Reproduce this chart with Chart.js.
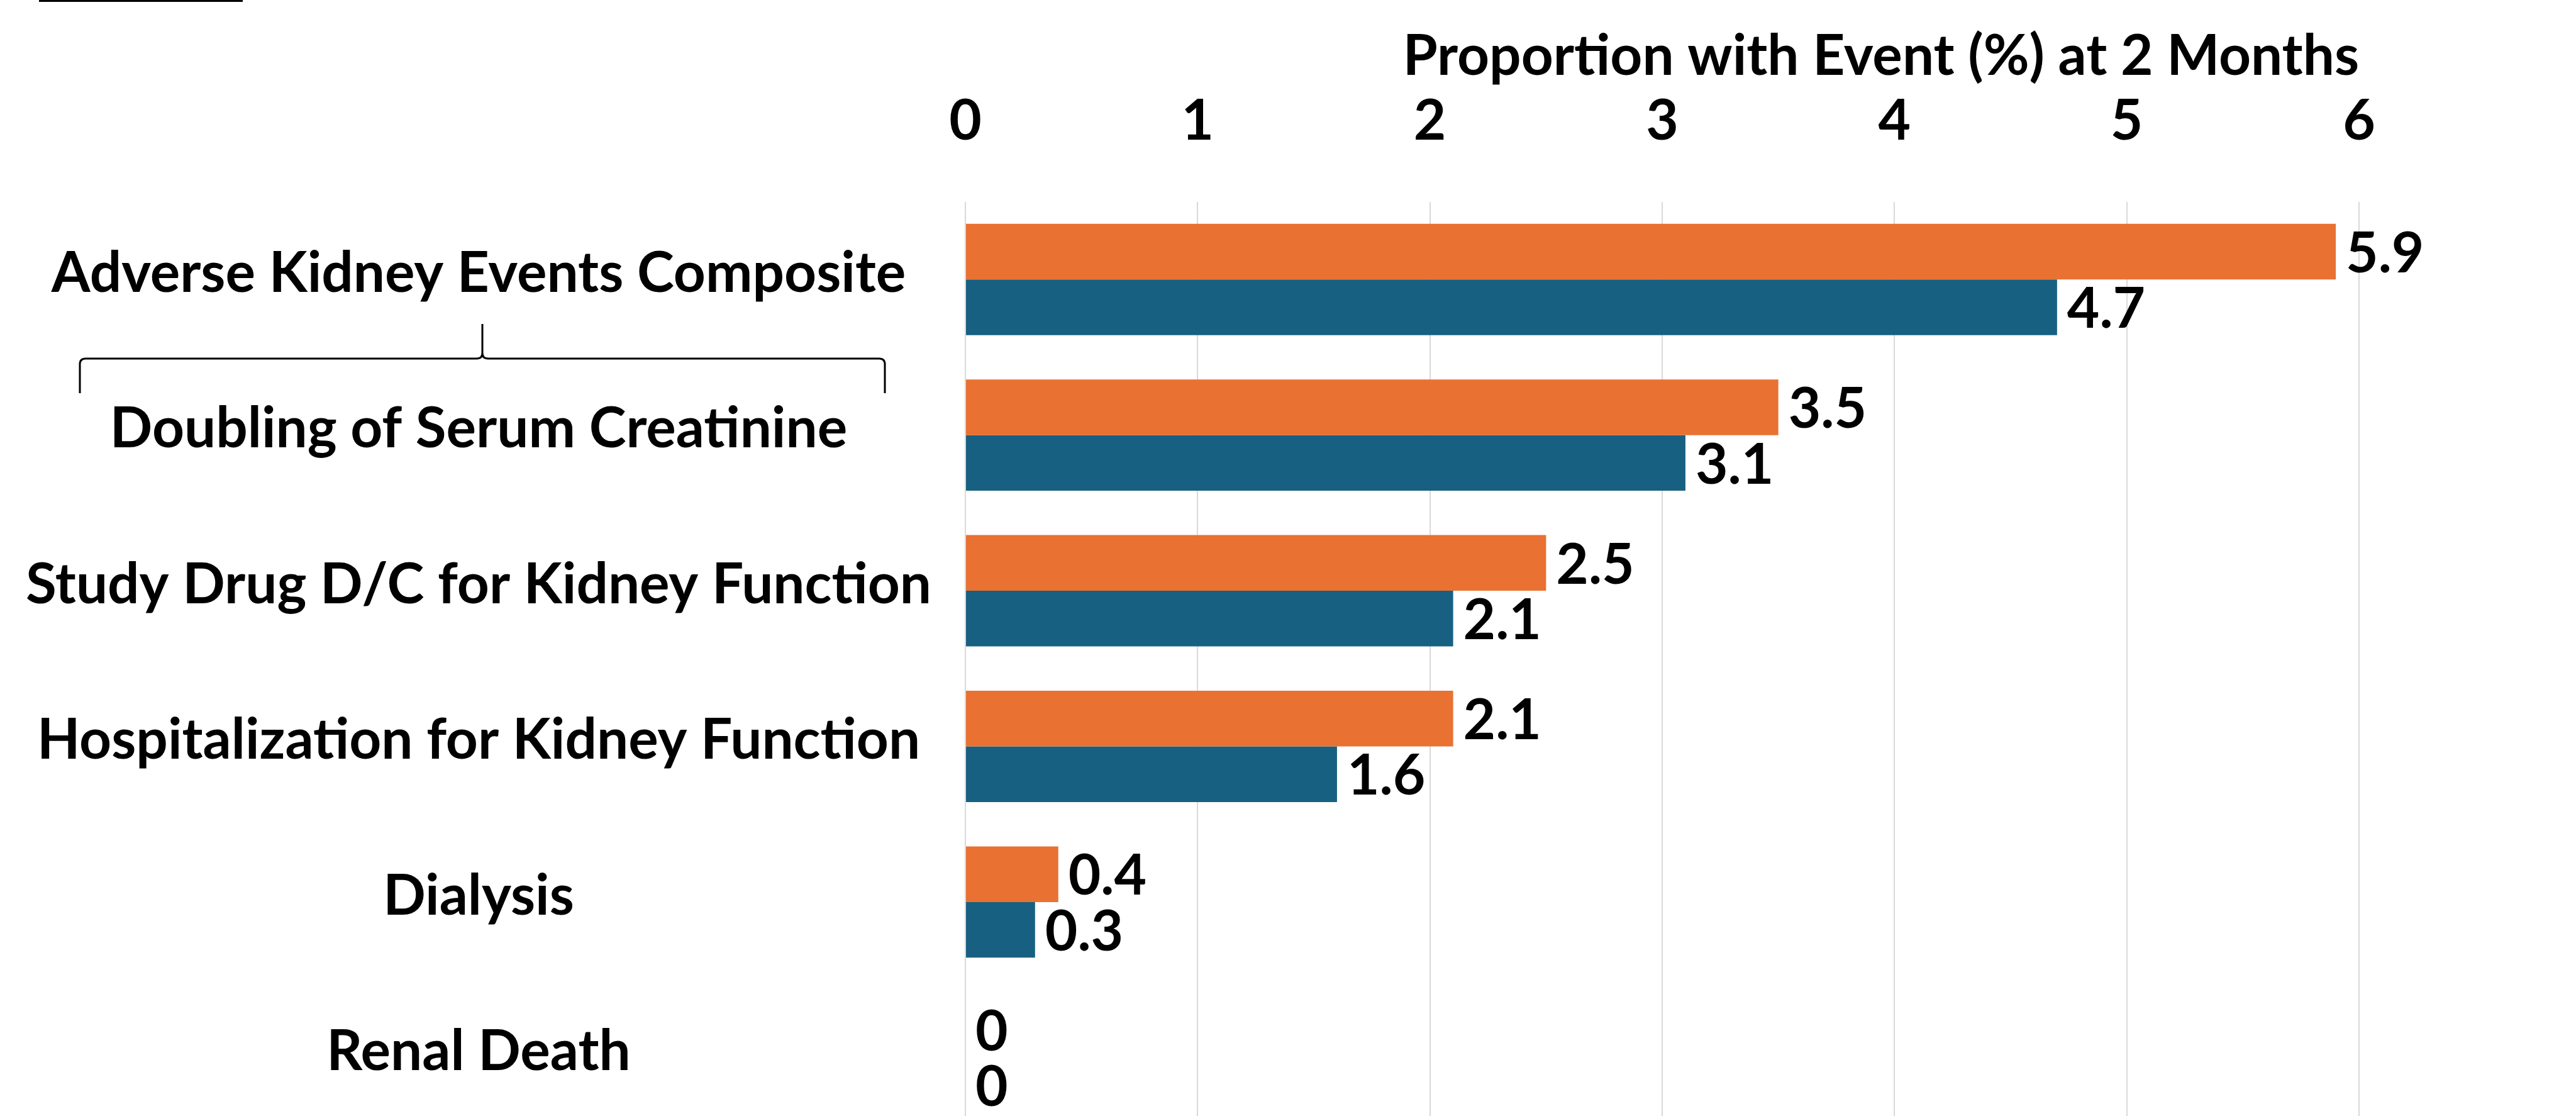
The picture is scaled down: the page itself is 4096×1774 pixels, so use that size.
<!DOCTYPE html>
<html>
<head>
<meta charset="utf-8">
<script src="https://cdn.jsdelivr.net/npm/chart.js@4.4.1/dist/chart.umd.min.js"></script>
<style>
  html, body { margin: 0; padding: 0; background: #fff; overflow: hidden; }
  canvas { display: block; }
</style>
</head>
<body>
<canvas id="mycanvas" width="4096" height="1805"></canvas>
<script>
var categories = [
  'Adverse Kidney Events Composite',
  'Doubling of Serum Creatinine',
  'Study Drug D/C for Kidney Function',
  'Hospitalization for Kidney Function',
  'Dialysis',
  'Renal Death'
];
var orangeValues = [5.9, 3.5, 2.5, 2.1, 0.4, 0];
var blueValues = [4.7, 3.1, 2.1, 1.6, 0.3, 0];
var xTicks = [0, 1, 2, 3, 4, 5, 6];
var axisTitle = 'Proportion with Event (%) at 2 Months';

var FONT = 'Lato';
var SIZE = 89;
var plotLeft = 1535;     // where the value axis starts
var plotTop = 320.5;
var labelCentre = 761;   // category labels are centred here

// measure the widest label so the centred labels land on labelCentre
var mctx = document.createElement('canvas').getContext('2d');
mctx.font = 'normal bold ' + SIZE + 'px ' + FONT;
var widest = 0;
for (var i in categories) {
  widest = Math.max(widest, mctx.measureText(categories[i]).width);
}

var valueLabels = {
  id: 'valueLabels',
  afterDatasetsDraw: function(chart) {
    var ctx = chart.ctx;
    ctx.save();
    ctx.font = 'normal bold ' + SIZE + 'px ' + FONT;
    ctx.fillStyle = '#000';
    ctx.textAlign = 'left';
    ctx.textBaseline = 'middle';
    chart.data.datasets.forEach(function(ds, d) {
      chart.getDatasetMeta(d).data.forEach(function(bar, j) {
        ctx.fillText(String(ds.data[j]), bar.x + 16, bar.y + 4);
      });
    });
    ctx.restore();
  }
};

var decorations = {
  id: 'decorations',
  afterDraw: function(chart) {
    var ctx = chart.ctx;
    var ys = chart.scales.y;
    ctx.save();
    // remains of the cut-off heading underline
    ctx.fillStyle = '#000';
    ctx.fillRect(62, 0, 324, 3);

    // brace between the composite and its first component
    var y = (ys.getPixelForValue(0) + ys.getPixelForValue(1)) / 2 + 2;
    var c = 767, half = 640, r = 9, stem = 55;
    var L = c - half, R = c + half;
    ctx.strokeStyle = '#000';
    ctx.lineWidth = 3;
    ctx.beginPath();
    ctx.moveTo(L, y + stem);
    ctx.lineTo(L, y + r);
    ctx.quadraticCurveTo(L, y, L + r, y);
    ctx.lineTo(c - r, y);
    ctx.quadraticCurveTo(c, y, c, y - r);
    ctx.lineTo(c, y - stem);
    ctx.moveTo(c, y - r);
    ctx.quadraticCurveTo(c, y, c + r, y);
    ctx.lineTo(R - r, y);
    ctx.quadraticCurveTo(R, y, R, y + r);
    ctx.lineTo(R, y + stem);
    ctx.stroke();
    ctx.restore();
  }
};

var chartdata = {
  labels: categories,
  datasets: [
    {
      label: 'Group A',
      backgroundColor: '#E97132',
      data: orangeValues
    },
    {
      label: 'Group B',
      backgroundColor: '#176082',
      data: blueValues
    }
  ]
};

var ctx = document.getElementById('mycanvas');

var barGraph = new Chart(ctx, {
  type: 'bar',
  data: chartdata,
  plugins: [valueLabels, decorations],
  options: {
    indexAxis: 'y',
    responsive: false,
    devicePixelRatio: 1,
    animation: false,
    layout: { padding: { left: 0, top: 0, right: 345, bottom: 0 } },
    datasets: { bar: { categoryPercentage: 0.715, barPercentage: 1.0 } },
    plugins: {
      legend: { display: false },
      tooltip: { enabled: false }
    },
    scales: {
      x: {
        position: 'top',
        min: 0,
        max: 6,
        afterBuildTicks: function(scale) {
          scale.ticks = xTicks.map(function(v) { return { value: v }; });
        },
        afterFit: function(scale) { scale.height = plotTop; },
        grid: { color: '#d9d9d9', lineWidth: 2, drawTicks: false },
        border: { display: false },
        ticks: {
          color: '#000',
          padding: 74,
          font: { family: FONT, size: SIZE, weight: 'bold' }
        },
        title: {
          display: true,
          text: axisTitle,
          align: 'end',
          color: '#000',
          padding: { top: 37, bottom: 0 },
          font: { family: FONT, size: SIZE, weight: 'bold' }
        }
      },
      y: {
        afterFit: function(scale) {
          scale.width = plotLeft;
          // the plot runs to the bottom edge, so no room is kept for label overhang
          scale.paddingTop = 0;
          scale.paddingBottom = 0;
        },
        grid: { display: false, drawTicks: false },
        border: { display: false },
        ticks: {
          color: '#000',
          crossAlign: 'center',
          labelOffset: -9,
          padding: plotLeft - labelCentre - widest / 2,
          font: { family: FONT, size: SIZE, weight: 'bold' }
        }
      }
    }
  }
});
</script>
</body>
</html>
